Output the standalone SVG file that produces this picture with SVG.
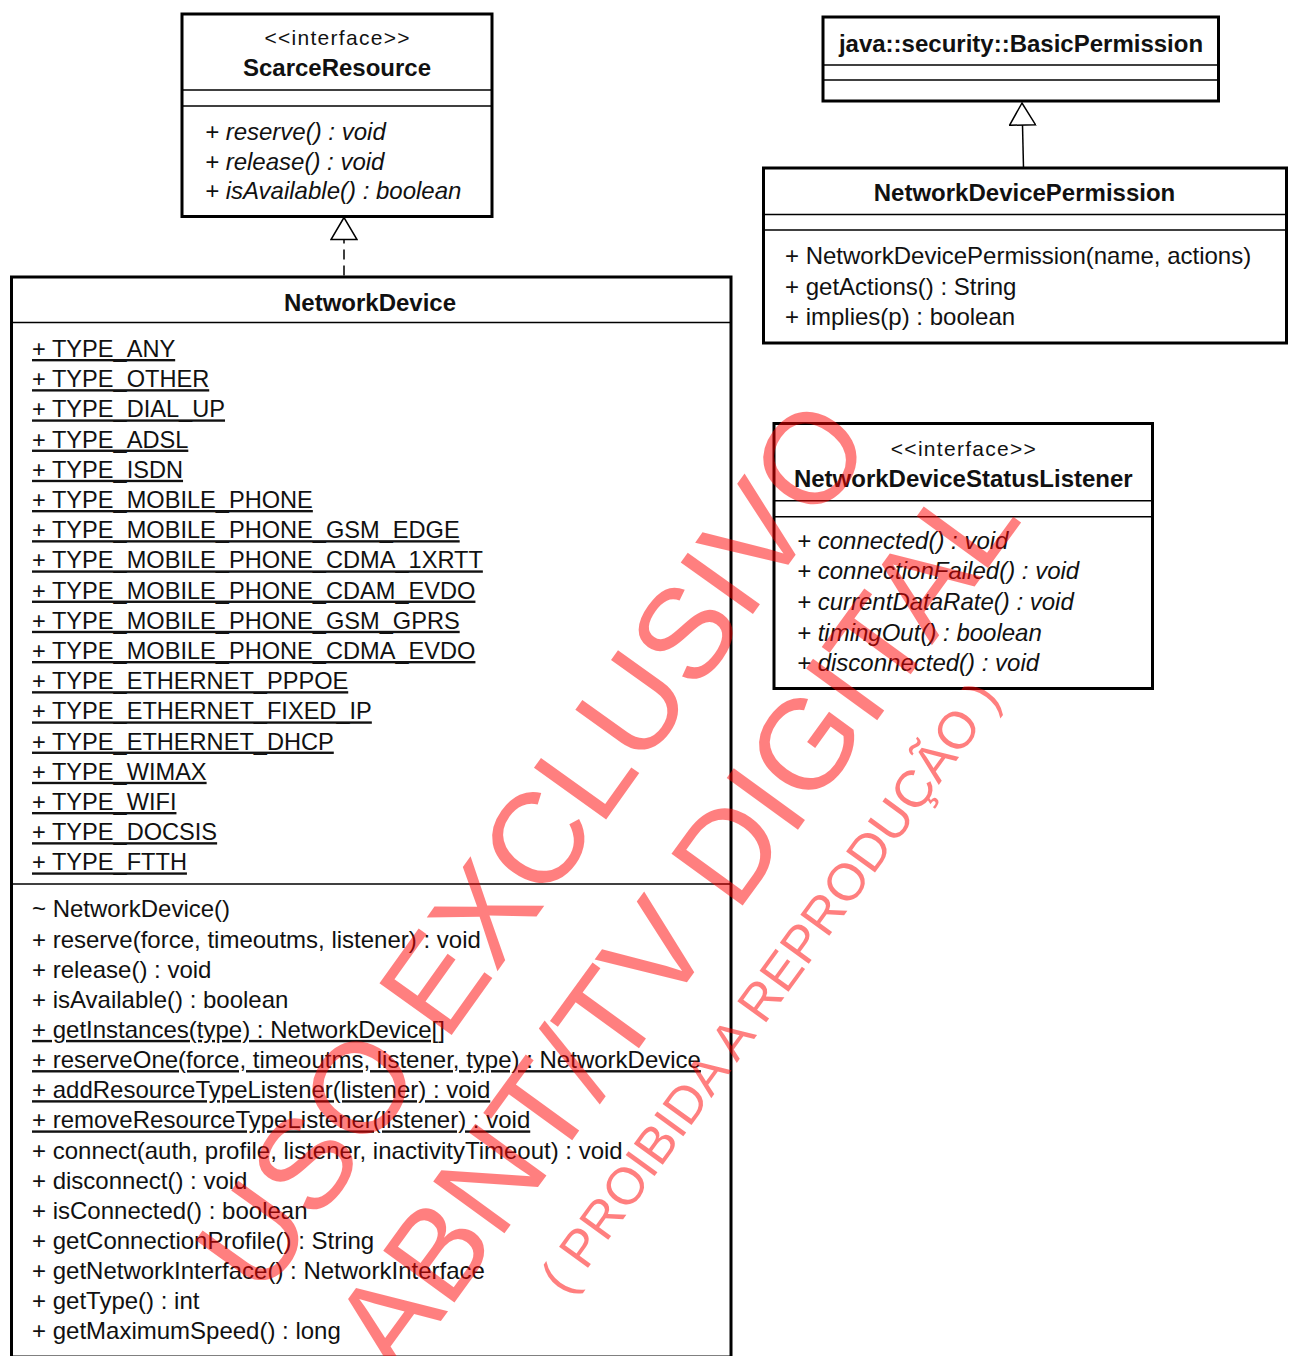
<svg xmlns="http://www.w3.org/2000/svg" width="1290" height="1356" viewBox="0 0 1290 1356">
<defs>
<style>
text{font-family:"Liberation Sans",Arial,sans-serif;fill:#111;}
.box{fill:#fff;stroke:#000;stroke-width:3;}
.div{stroke:#000;stroke-width:1.5;fill:none;}
.nm{font-size:24px;font-weight:bold;text-anchor:middle;}
.st{font-size:21px;text-anchor:middle;}
.op{font-size:24px;}
.it{font-size:24px;font-style:italic;}
.at{font-size:23.6px;text-decoration:underline;text-underline-offset:4px;}
.u{text-decoration:underline;text-underline-offset:4px;}
.conn{stroke:#000;stroke-width:1.5;fill:none;}
.dash{stroke-dasharray:10 6;}
.wm{fill:#ff0000;fill-opacity:0.5;font-family:"Liberation Sans",Arial,sans-serif;}
</style>
<marker id="hollow" viewBox="0 0 24 28" refX="23" refY="14" markerWidth="24" markerHeight="28" markerUnits="userSpaceOnUse" orient="auto">
<path d="M23,14 L1,1 L1,27 Z" fill="#fff" stroke="#000" stroke-width="1.5" stroke-dasharray="none"/>
</marker>
</defs>
<rect width="1290" height="1356" fill="#fff"/>

<g id="connectors">
<line class="conn dash" x1="344" y1="275.5" x2="344" y2="217.5" marker-end="url(#hollow)"/>
<line class="conn" x1="1023.5" y1="168" x2="1022" y2="103" marker-end="url(#hollow)"/>
</g>

<g id="ScarceResource">
<rect class="box" x="182" y="14" width="310" height="202.5"/>
<line class="div" x1="182" y1="90" x2="492" y2="90"/>
<line class="div" x1="182" y1="106" x2="492" y2="106"/>
<text class="st" x="337" y="45" textLength="145" lengthAdjust="spacing">&lt;&lt;interface&gt;&gt;</text>
<text class="nm" x="337" y="76">ScarceResource</text>
<text class="it" x="205" y="139.5">+ reserve() : void</text>
<text class="it" x="205" y="169.5">+ release() : void</text>
<text class="it" x="205" y="199">+ isAvailable() : boolean</text>
</g>

<g id="BasicPermission">
<rect class="box" x="823" y="17" width="395.5" height="84"/>
<line class="div" x1="823" y1="65" x2="1218.5" y2="65"/>
<line class="div" x1="823" y1="80" x2="1218.5" y2="80"/>
<text class="nm" x="1021" y="52">java::security::BasicPermission</text>
</g>

<g id="NetworkDevicePermission">
<rect class="box" x="763.5" y="168" width="523" height="175"/>
<line class="div" x1="763.5" y1="214.5" x2="1286.5" y2="214.5"/>
<line class="div" x1="763.5" y1="230" x2="1286.5" y2="230"/>
<text class="nm" x="1024.5" y="201">NetworkDevicePermission</text>
<text class="op" x="785" y="263.5">+ NetworkDevicePermission(name, actions)</text>
<text class="op" x="785" y="294.5">+ getActions() : String</text>
<text class="op" x="785" y="325">+ implies(p) : boolean</text>
</g>

<g id="NetworkDeviceStatusListener">
<rect class="box" x="774" y="423.5" width="378.5" height="265"/>
<line class="div" x1="774" y1="500.7" x2="1152.5" y2="500.7"/>
<line class="div" x1="774" y1="516.7" x2="1152.5" y2="516.7"/>
<text class="st" x="963.3" y="456" textLength="145" lengthAdjust="spacing">&lt;&lt;interface&gt;&gt;</text>
<text class="nm" x="963.3" y="487">NetworkDeviceStatusListener</text>
<text class="it" x="797" y="548.5">+ connected() : void</text>
<text class="it" x="797" y="579">+ connectionFailed() : void</text>
<text class="it" x="797" y="610">+ currentDataRate() : void</text>
<text class="it" x="797" y="640.5">+ timingOut() : boolean</text>
<text class="it" x="797" y="671">+ disconnected() : void</text>
</g>

<g id="NetworkDevice">
<rect class="box" x="11.5" y="277" width="719.5" height="1080"/>
<line class="div" x1="11.5" y1="322.5" x2="731" y2="322.5"/>
<line class="div" x1="11.5" y1="884" x2="731" y2="884"/>
<text class="nm" x="370" y="311">NetworkDevice</text>
<text class="at" x="32" y="357">+ TYPE_ANY</text>
<text class="at" x="32" y="387.2">+ TYPE_OTHER</text>
<text class="at" x="32" y="417.4">+ TYPE_DIAL_UP</text>
<text class="at" x="32" y="447.6">+ TYPE_ADSL</text>
<text class="at" x="32" y="477.8">+ TYPE_ISDN</text>
<text class="at" x="32" y="508">+ TYPE_MOBILE_PHONE</text>
<text class="at" x="32" y="538.2">+ TYPE_MOBILE_PHONE_GSM_EDGE</text>
<text class="at" x="32" y="568.4">+ TYPE_MOBILE_PHONE_CDMA_1XRTT</text>
<text class="at" x="32" y="598.6">+ TYPE_MOBILE_PHONE_CDAM_EVDO</text>
<text class="at" x="32" y="628.8">+ TYPE_MOBILE_PHONE_GSM_GPRS</text>
<text class="at" x="32" y="659">+ TYPE_MOBILE_PHONE_CDMA_EVDO</text>
<text class="at" x="32" y="689.2">+ TYPE_ETHERNET_PPPOE</text>
<text class="at" x="32" y="719.4">+ TYPE_ETHERNET_FIXED_IP</text>
<text class="at" x="32" y="749.6">+ TYPE_ETHERNET_DHCP</text>
<text class="at" x="32" y="779.8">+ TYPE_WIMAX</text>
<text class="at" x="32" y="810">+ TYPE_WIFI</text>
<text class="at" x="32" y="840.2">+ TYPE_DOCSIS</text>
<text class="at" x="32" y="870.4">+ TYPE_FTTH</text>
<text class="op" x="32" y="917.3">~ NetworkDevice()</text>
<text class="op" x="32" y="947.5">+ reserve(force, timeoutms, listener) : void</text>
<text class="op" x="32" y="977.6">+ release() : void</text>
<text class="op" x="32" y="1007.8">+ isAvailable() : boolean</text>
<text class="op u" x="32" y="1037.9">+ getInstances(type) : NetworkDevice[]</text>
<text class="op u" x="32" y="1068.1">+ reserveOne(force, timeoutms, listener, type) : NetworkDevice</text>
<text class="op u" x="32" y="1098.2">+ addResourceTypeListener(listener) : void</text>
<text class="op u" x="32" y="1128.4">+ removeResourceTypeListener(listener) : void</text>
<text class="op" x="32" y="1158.5">+ connect(auth, profile, listener, inactivityTimeout) : void</text>
<text class="op" x="32" y="1188.7">+ disconnect() : void</text>
<text class="op" x="32" y="1218.8">+ isConnected() : boolean</text>
<text class="op" x="32" y="1249">+ getConnectionProfile() : String</text>
<text class="op" x="32" y="1279.1">+ getNetworkInterface() : NetworkInterface</text>
<text class="op" x="32" y="1309.3">+ getType() : int</text>
<text class="op" x="32" y="1339.4">+ getMaximumSpeed() : long</text>
</g>

<g id="watermark">
<text class="wm" x="262" y="1300" font-size="129" transform="rotate(-54.4 262 1300)">USO EXCLUSIVO</text>
<text class="wm" x="398" y="1380" font-size="128" transform="rotate(-54 398 1380)">ABNT/TV DIGITAL</text>
<text class="wm" x="566.8" y="1296.9" font-size="52" transform="rotate(-54 566.8 1296.9)">( PROIBIDA A REPRODUÇÃO )</text>
</g>
</svg>
